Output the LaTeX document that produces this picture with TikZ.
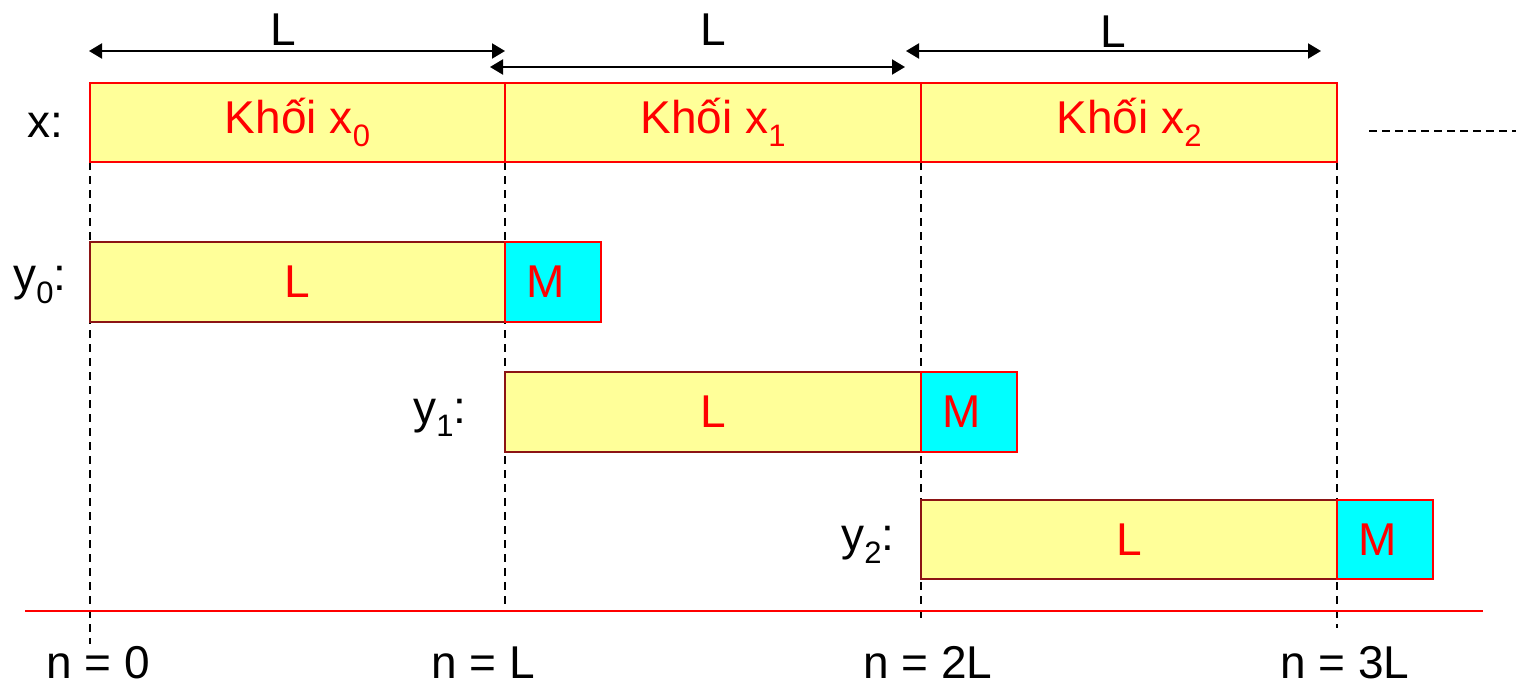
\documentclass[tikz,border=0pt]{standalone}
\usepackage{fontspec}
\setmainfont{Liberation Sans}
\usetikzlibrary{arrows.meta}
\definecolor{blkyellow}{RGB}{255,255,153}
\definecolor{blkcyan}{RGB}{0,255,255}
\definecolor{blkred}{RGB}{255,0,0}
\definecolor{darkborder}{RGB}{140,20,20}
\newcommand{\lsub}[1]{\raisebox{-0.28em}{\fontsize{31}{31}\selectfont #1}}
\newcommand{\mtext}{\raisebox{-2pt}{M}\rule{14pt}{0pt}}
\tikzset{
  txt/.style={font=\fontsize{46}{50}\selectfont, inner sep=0pt},
  xblock/.style={draw=blkred, line width=1.5pt, fill=blkyellow, inner sep=0pt, outer sep=0pt,
    minimum height=79pt, text=blkred, font=\fontsize{46}{50}\selectfont},
  lblock/.style={draw=darkborder, line width=1.5pt, fill=blkyellow, inner sep=0pt, outer sep=0pt,
    minimum height=80pt, minimum width=416pt, text=blkred, font=\fontsize{46}{50}\selectfont},
  mblock/.style={draw=blkred, line width=1.5pt, fill=blkcyan, inner sep=0pt, outer sep=0pt,
    minimum height=80pt, minimum width=96pt, text=blkred, font=\fontsize{46}{50}\selectfont},
  dimarrow/.style={{Triangle[length=13pt,width=15pt]}-{Triangle[length=13pt,width=15pt]}, line width=2pt, black},
  guide/.style={dashed, dash pattern=on 8pt off 6pt, line width=1.5pt, black},
}
\begin{document}
\begin{tikzpicture}[x=1pt,y=-1pt]
\useasboundingbox (0,0) rectangle (1516,686);

% guide coordinates
\coordinate (g0t) at (90,162);  \coordinate (g0b) at (90,644);
\coordinate (g1t) at (505,162); \coordinate (g1b) at (505,605);
\coordinate (g2t) at (921,162); \coordinate (g2b) at (921,620);
\coordinate (g3t) at (1337,162); \coordinate (g3b) at (1337,628);
\draw[guide] (g0t) -- (g0b);
\draw[guide] (g1t) -- (g1b);
\draw[guide] (g2t) -- (g2b);
\draw[guide] (g3t) -- (g3b);

% x blocks
\node[xblock, minimum width=415pt] (bx0) at (297.5,122.5) {Khối x\lsub{0}};
\node[xblock, minimum width=416pt] (bx1) at (713,122.5) {Khối x\lsub{1}};
\node[xblock, minimum width=416pt] (bx2) at (1129,122.5) {Khối x\lsub{2}};
\node[txt] (xlab) at (45,125) {x:};

% continuation
\coordinate (c0) at (1369,131);
\coordinate (c1) at (1516,131);
\draw[guide, dash pattern=on 8pt off 5pt] (c0) -- (c1);

% y blocks
\node[lblock, minimum width=415pt] (y0L) at (297.5,282) {\raisebox{-2pt}{L}};
\node[mblock] (y0M) at (553,282) {\mtext};
\node[txt] (y0lab) at (40,285) {y\lsub{0}:};

\node[lblock] (y1L) at (713,412) {\raisebox{-2pt}{L}};
\node[mblock] (y1M) at (969,412) {\mtext};
\node[txt] (y1lab) at (440,418) {y\lsub{1}:};

\node[lblock, minimum height=79pt] (y2L) at (1129,539.5) {\raisebox{-2pt}{L}};
\node[mblock, minimum height=79pt] (y2M) at (1385,539.5) {\mtext};
\node[txt] (y2lab) at (868,545) {y\lsub{2}:};

% dimension arrows
\coordinate (a0l) at (89,51);  \coordinate (a0r) at (505,51);
\coordinate (a1l) at (490,67); \coordinate (a1r) at (905,67);
\coordinate (a2l) at (906,51); \coordinate (a2r) at (1321,51);
\draw[dimarrow] (a0l) -- (a0r);
\draw[dimarrow] (a1l) -- (a1r);
\draw[dimarrow] (a2l) -- (a2r);
\node[txt] (d0) at (283,30) {L};
\node[txt] (d1) at (713,30) {L};
\node[txt] (d2) at (1113,32) {L};

% time axis
\coordinate (t0) at (25,611);
\coordinate (t1) at (1483,611);
\draw[blkred, line width=2pt] (t0) -- (t1);
\node[txt] (n0) at (98,663) {n = 0};
\node[txt] (n1) at (483,663) {n = L};
\node[txt] (n2) at (928,662) {n = 2L};
\node[txt] (n3) at (1345,663) {n = 3L};
\end{tikzpicture}
\end{document}
